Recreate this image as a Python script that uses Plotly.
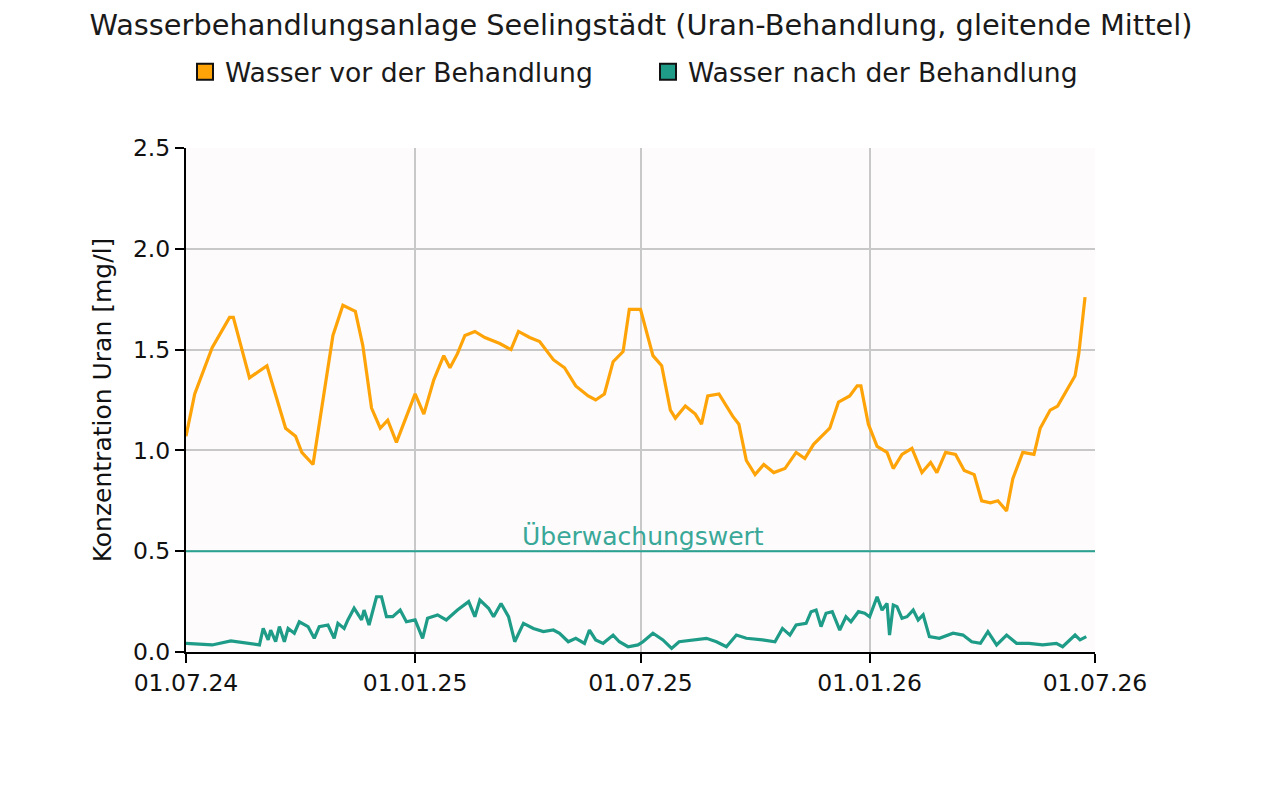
import plotly.graph_objects as go

# ---- data ----
vor_dates = [
    "2024-07-01", "2024-07-08", "2024-07-22", "2024-08-05", "2024-08-08", "2024-08-21",
    "2024-09-04", "2024-09-19", "2024-09-27", "2024-10-02", "2024-10-11", "2024-10-27",
    "2024-11-04", "2024-11-14", "2024-11-20", "2024-11-27", "2024-12-04", "2024-12-10",
    "2024-12-17", "2025-01-01", "2025-01-08", "2025-01-16", "2025-01-24", "2025-01-29",
    "2025-02-04", "2025-02-10", "2025-02-18", "2025-02-26", "2025-03-10", "2025-03-19",
    "2025-03-25", "2025-04-03", "2025-04-11", "2025-04-22", "2025-05-01", "2025-05-10",
    "2025-05-20", "2025-05-26", "2025-06-02", "2025-06-09", "2025-06-17", "2025-06-22",
    "2025-07-01", "2025-07-11", "2025-07-18", "2025-07-25", "2025-07-29", "2025-08-06",
    "2025-08-14", "2025-08-19", "2025-08-24", "2025-09-02", "2025-09-13", "2025-09-18",
    "2025-09-24", "2025-10-01", "2025-10-08", "2025-10-16", "2025-10-25", "2025-11-03",
    "2025-11-10", "2025-11-17", "2025-11-30", "2025-12-07", "2025-12-16", "2025-12-22",
    "2025-12-25", "2025-12-31", "2026-01-07", "2026-01-15", "2026-01-20", "2026-01-27",
    "2026-02-04", "2026-02-12", "2026-02-19", "2026-02-24", "2026-03-03", "2026-03-11",
    "2026-03-18", "2026-03-26", "2026-04-01", "2026-04-08", "2026-04-14", "2026-04-21",
    "2026-04-26", "2026-05-04", "2026-05-13", "2026-05-18", "2026-05-26", "2026-06-01",
    "2026-06-15", "2026-06-18", "2026-06-23",
]
vor_values = [
    1.07, 1.28, 1.51, 1.66, 1.66, 1.36,
    1.42, 1.11, 1.07, 0.99, 0.93, 1.57,
    1.72, 1.69, 1.52, 1.21, 1.11, 1.15,
    1.04, 1.28, 1.18, 1.35, 1.47, 1.41,
    1.48, 1.57, 1.59, 1.56, 1.53, 1.50,
    1.59, 1.56, 1.54, 1.45, 1.41, 1.32,
    1.27, 1.25, 1.28, 1.44, 1.49, 1.70,
    1.70, 1.47, 1.42, 1.20, 1.16, 1.22,
    1.18, 1.13, 1.27, 1.28, 1.17, 1.13,
    0.95, 0.88, 0.93, 0.89, 0.91, 0.99,
    0.96, 1.03, 1.11, 1.24, 1.27, 1.32,
    1.32, 1.13, 1.02, 0.99, 0.91, 0.98,
    1.01, 0.89, 0.94, 0.89, 0.99, 0.98,
    0.90, 0.88, 0.75, 0.74, 0.75, 0.70,
    0.86, 0.99, 0.98, 1.11, 1.20, 1.22,
    1.37, 1.48, 1.76,
]

nach_dates = [
    "2024-07-01", "2024-07-22", "2024-08-06", "2024-08-18", "2024-08-29", "2024-09-01",
    "2024-09-05", "2024-09-07", "2024-09-11", "2024-09-14", "2024-09-18", "2024-09-21",
    "2024-09-26", "2024-09-30", "2024-10-07", "2024-10-12", "2024-10-16", "2024-10-23",
    "2024-10-28", "2024-10-31", "2024-11-05", "2024-11-08", "2024-11-13", "2024-11-19",
    "2024-11-21", "2024-11-25", "2024-12-01", "2024-12-05", "2024-12-09", "2024-12-14",
    "2024-12-20", "2024-12-25", "2025-01-01", "2025-01-07", "2025-01-11", "2025-01-19",
    "2025-01-26", "2025-02-04", "2025-02-13", "2025-02-18", "2025-02-22", "2025-03-01",
    "2025-03-05", "2025-03-11", "2025-03-17", "2025-03-22", "2025-03-29", "2025-04-06",
    "2025-04-14", "2025-04-22", "2025-04-27", "2025-05-04", "2025-05-10", "2025-05-17",
    "2025-05-21", "2025-05-26", "2025-06-01", "2025-06-09", "2025-06-14", "2025-06-21",
    "2025-06-29", "2025-07-03", "2025-07-11", "2025-07-19", "2025-07-26", "2025-08-01",
    "2025-08-12", "2025-08-23", "2025-08-31", "2025-09-08", "2025-09-16", "2025-09-24",
    "2025-10-07", "2025-10-17", "2025-10-23", "2025-10-29", "2025-11-03", "2025-11-11",
    "2025-11-15", "2025-11-19", "2025-11-23", "2025-11-27", "2025-12-02", "2025-12-08",
    "2025-12-13", "2025-12-17", "2025-12-23", "2025-12-28", "2026-01-01", "2026-01-07",
    "2026-01-11", "2026-01-15", "2026-01-17", "2026-01-20", "2026-01-23", "2026-01-27",
    "2026-01-31", "2026-02-05", "2026-02-09", "2026-02-13", "2026-02-18", "2026-02-26",
    "2026-03-09", "2026-03-17", "2026-03-24", "2026-03-31", "2026-04-06", "2026-04-13",
    "2026-04-21", "2026-04-29", "2026-05-09", "2026-05-20", "2026-05-31", "2026-06-05",
    "2026-06-15", "2026-06-19", "2026-06-24",
]
nach_values = [
    0.043, 0.035, 0.055, 0.043, 0.035, 0.117,
    0.060, 0.109, 0.051, 0.126, 0.051, 0.117,
    0.093, 0.150, 0.126, 0.068, 0.126, 0.134,
    0.068, 0.142, 0.117, 0.159, 0.217, 0.159,
    0.208, 0.134, 0.274, 0.274, 0.175, 0.175,
    0.208, 0.150, 0.159, 0.068, 0.167, 0.184,
    0.159, 0.208, 0.250, 0.175, 0.258, 0.217,
    0.175, 0.241, 0.175, 0.051, 0.142, 0.117,
    0.101, 0.109, 0.093, 0.051, 0.068, 0.043,
    0.109, 0.060, 0.043, 0.084, 0.051, 0.026,
    0.035, 0.051, 0.093, 0.060, 0.018, 0.051,
    0.060, 0.068, 0.051, 0.026, 0.084, 0.068,
    0.060, 0.051, 0.117, 0.084, 0.134, 0.142,
    0.200, 0.208, 0.126, 0.192, 0.200, 0.109,
    0.175, 0.150, 0.200, 0.192, 0.175, 0.274,
    0.208, 0.241, 0.084, 0.233, 0.225, 0.167,
    0.175, 0.208, 0.159, 0.184, 0.076, 0.068,
    0.093, 0.084, 0.051, 0.043, 0.101, 0.035,
    0.084, 0.043, 0.043, 0.035, 0.043, 0.026,
    0.084, 0.060, 0.076,
]

schwelle = 0.5
x_ticks = ["2024-07-01", "2025-01-01", "2025-07-01", "2026-01-01", "2026-07-01"]
x_ticktext = ["01.07.24", "01.01.25", "01.07.25", "01.01.26", "01.07.26"]
y_ticks = [0.0, 0.5, 1.0, 1.5, 2.0, 2.5]
y_ticktext = ["0.0", "0.5", "1.0", "1.5", "2.0", "2.5"]

name_vor = "Wasser vor der Behandlung"
name_nach = "Wasser nach der Behandlung"

ORANGE = "#FFA408"
TEAL = "#1E9C88"
FONT = "DejaVu Sans"
W, H = 1280, 789

fig = go.Figure()
fig.add_trace(go.Scatter(x=vor_dates, y=vor_values, mode="lines", showlegend=False,
                         line=dict(color=ORANGE, width=3.2), name=name_vor))
fig.add_trace(go.Scatter(x=nach_dates, y=nach_values, mode="lines", showlegend=False,
                         line=dict(color=TEAL, width=3.2), name=name_nach))
# legend-only entries with square boxes, each in its own legend
for nm, col, lg in [(name_vor, ORANGE, "legend"), (name_nach, TEAL, "legend2")]:
    fig.add_trace(go.Scatter(x=[None], y=[None], mode="markers", name=nm, legend=lg,
                             marker=dict(symbol="square", size=17, color=col,
                                         line=dict(color="#111111", width=2))))

fig.add_shape(type="line", xref="paper", x0=0, x1=1, yref="y", y0=schwelle, y1=schwelle,
              line=dict(color="#2AA291", width=2), layer="above")
fig.add_annotation(text="Überwachungswert", xref="paper", x=0.503, yref="y", y=schwelle,
                   yanchor="bottom", showarrow=False, yshift=-2,
                   font=dict(family=FONT, size=25, color="#3AA898"))

legend_common = dict(orientation="h", xref="container", yref="container", xanchor="left",
                     yanchor="middle", y=1 - 64 / H, bgcolor="rgba(0,0,0,0)",
                     font=dict(family=FONT, size=26.6, color="#1A1A1A"))

fig.update_layout(
    width=W, height=H,
    margin=dict(l=178, r=193, t=140, b=145),
    paper_bgcolor="white", plot_bgcolor="#FDFBFC",
    font=dict(family=FONT, size=23, color="#111111"),
    title=dict(text="Wasserbehandlungsanlage Seelingstädt (Uran-Behandlung, gleitende Mittel)",
               x=633 / W, xanchor="center", xref="container", y=1 - 17 / H, yanchor="middle",
               yref="container", font=dict(family=FONT, size=28.8, color="#1A1A1A")),
    legend=dict(x=177 / W, **legend_common),
    legend2=dict(x=640 / W, **legend_common),
    showlegend=True,
)
fig.update_xaxes(type="date", range=["2024-07-01", "2026-07-01"], tickvals=x_ticks,
                 ticktext=x_ticktext, showgrid=True, gridcolor="#C8C8C8", gridwidth=2,
                 showline=True, linecolor="black", linewidth=2, ticks="outside", ticklen=9,
                 tickwidth=2, tickcolor="black", tickfont=dict(size=23.5, color="#111111"),
                 zeroline=False)
fig.update_yaxes(range=[0, 2.5], tickvals=y_ticks, ticktext=y_ticktext, showgrid=True,
                 gridcolor="#C8C8C8", gridwidth=2, showline=True, linecolor="black", linewidth=2,
                 ticks="outside", ticklen=9, tickwidth=2, tickcolor="black",
                 tickfont=dict(size=23.5, color="#111111"), zeroline=False,
                 title=dict(text="Konzentration Uran [mg/l]", font=dict(size=25, color="#111111"),
                            standoff=14))

fig.write_html("out.html")
